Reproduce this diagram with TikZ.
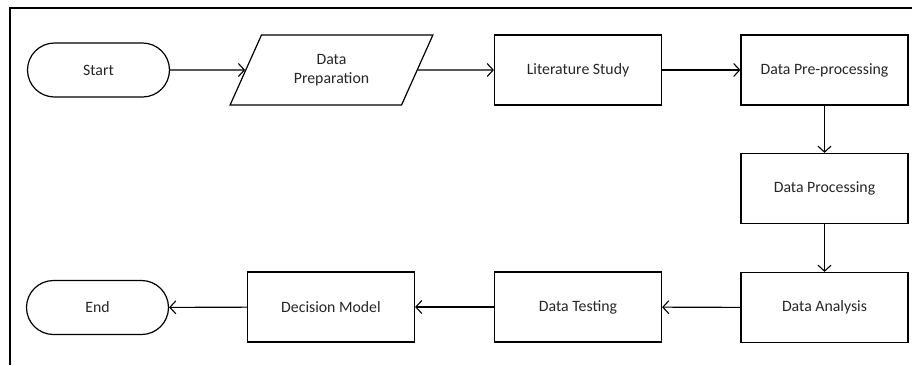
\documentclass[tikz,border=0pt]{standalone}
\usepackage{fontspec}
\setmainfont{Carlito}
\usetikzlibrary{shapes.geometric,arrows.meta}
\begin{document}
\begin{tikzpicture}[x=1pt,y=-1pt,
  every node/.style={font=\fontsize{15.8}{19}\selectfont, text=black!85, align=center, inner sep=0pt},
  proc/.style={draw, line width=1.2pt, rectangle, minimum width=167pt, minimum height=70pt},
  term/.style={draw, line width=1.2pt, rectangle, rounded corners=27pt, minimum width=142pt, minimum height=54pt},
  io/.style={draw, line width=1.2pt, trapezium, trapezium left angle=62, trapezium right angle=118, trapezium stretches=true, minimum width=203pt, minimum height=70pt},
  flow/.style={line width=1.1pt, -{Straight Barb[length=6pt,width=13pt,line width=1.1pt]}}
]
\useasboundingbox (0,0) rectangle (912,365);
\coordinate (ftr) at (912,8);
\coordinate (ftl) at (10,8);
\coordinate (fbl) at (10,365);
\draw[line width=1.3pt] (ftr) -- (ftl) -- (fbl);

\node[term] (start) at (98.5,70) {Start};
\node[io] (prep) at (331.5,70) {Data\\Preparation};
\node[proc] (lit) at (578,70) {Literature Study};
\node[proc] (pre) at (824.5,70) {Data Pre-processing};
\node[proc] (proc) at (824.5,188.5) {Data Processing};
\node[proc] (ana) at (824.5,307.5) {Data Analysis};
\node[proc] (test) at (578,307) {Data Testing};
\node[proc] (dec) at (331,307) {Decision Model};
\node[term] (end) at (97.5,307.5) {End};

\draw[flow] (start) -- (prep);
\draw[flow] (prep) -- (lit);
\draw[flow] (lit) -- (pre);
\draw[flow] (pre) -- (proc);
\draw[flow] (proc) -- (ana);
\draw[flow] (ana) -- (test);
\draw[flow] (test) -- (dec);
\draw[flow] (dec) -- (end);
\end{tikzpicture}
\end{document}
